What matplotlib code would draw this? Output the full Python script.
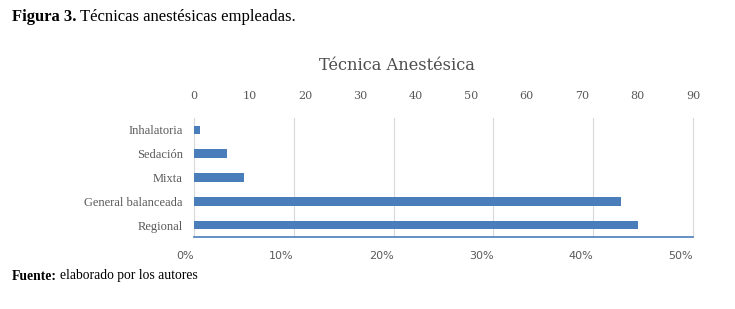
import matplotlib.pyplot as plt
import numpy as np

categories = ["Regional", "General balanceada", "Mixta", "Sedación", "Inhalatoria"]
counts = [80, 77, 9, 6, 1]
count_ticks = [0, 10, 20, 30, 40, 50, 60, 70, 80, 90]
pct_ticks = [0, 10, 20, 30, 40, 50]
pct_labels = ["0%", "10%", "20%", "30%", "40%", "50%"]

gray = "#595959"
blue = "#4a7ebb"

fig = plt.figure(figsize=(7.35, 3.09), dpi=100)

# percent axis (bottom) carries the gridlines
ax = fig.add_axes([194 / 735, 1 - 237 / 309, 499 / 735, 119 / 309])
ax.set_xlim(0, 50)
ax.set_xticks(pct_ticks)
ax.set_xticklabels(pct_labels, fontsize=8, color=gray, family="DejaVu Sans", ha="right")
ax.tick_params(axis="x", length=0, pad=10)
ax.grid(axis="x", color="#d9d9d9", linewidth=0.8)
for gl in ax.get_xgridlines():
    gl.set_clip_on(False)
ax.set_axisbelow(True)
for s in ["top", "left", "right"]:
    ax.spines[s].set_visible(False)
ax.spines["bottom"].set_color("#4a7ebb")
ax.spines["bottom"].set_linewidth(1.2)

y = np.arange(len(categories))
ax.set_ylim(-0.5, len(categories) - 0.5)
ax.set_yticks(y)
ax.set_yticklabels(categories, fontsize=9, color=gray, family="Liberation Serif")
ax.tick_params(axis="y", length=0, pad=8)

# count axis (top) carries the bars
ax2 = ax.twiny()
ax2.barh(y, counts, height=0.36, color=blue)
ax2.set_xlim(0, 90)
ax2.set_xticks(count_ticks)
ax2.set_xticklabels([str(t) for t in count_ticks], fontsize=8, color=gray, family="DejaVu Serif")
ax2.tick_params(axis="x", length=0, pad=12)
for s in ax2.spines.values():
    s.set_visible(False)
ax2.patch.set_visible(False)

fig.text(397 / 735, 1 - 65 / 309, "Técnica Anestésica", ha="center", va="center",
         fontsize=11.7, color="#4d4d4d", family="DejaVu Serif")

# caption and source
r = fig.canvas.get_renderer()
t1 = fig.text(12 / 735, 1 - 17 / 309, "Figura 3.", fontsize=12, weight="bold",
              family="Liberation Serif", va="center")
bb = t1.get_window_extent(r)
fig.text((bb.x1 + 4) / 735, 1 - 17 / 309, "Técnicas anestésicas empleadas.", fontsize=12,
         family="Liberation Serif", va="center")

t2 = fig.text(12 / 735, 1 - 276 / 309, "Fuente:", fontsize=9.8, weight="bold",
              family="Liberation Serif", va="center")
bb = t2.get_window_extent(r)
fig.text((bb.x1 + 3) / 735, 1 - 276 / 309, "elaborado por los autores", fontsize=9.8,
         family="Liberation Serif", va="center")

fig.savefig("out.png", dpi=100)
